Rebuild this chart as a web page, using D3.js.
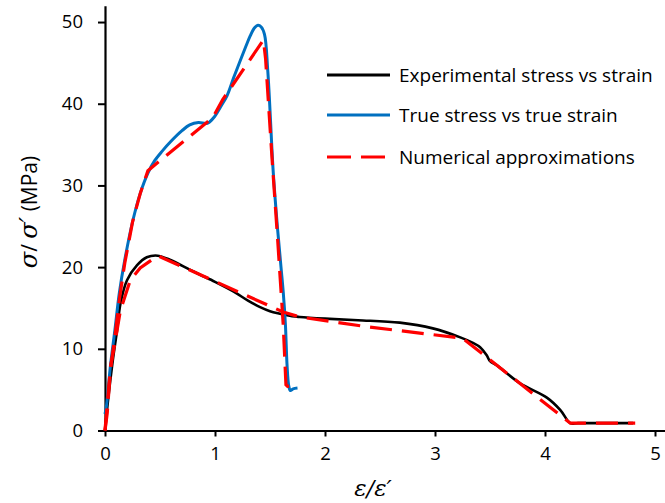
<!DOCTYPE html>
<html>
<head>
<meta charset="utf-8">
<script src="https://cdn.jsdelivr.net/npm/d3@7/dist/d3.min.js"></script>
<style>
  html, body { margin: 0; padding: 0; background: #fff; }
  svg { display: block; }
  .tick text { font-family: "Open Sans", sans-serif; font-size: 18.5px; fill: #000; }
</style>
</head>
<body>
<svg id="chart" width="665" height="503"></svg>
<script>
// Experimental stress vs strain
const expStrain = [0, 0.03, 0.07, 0.11, 0.14, 0.2, 0.29, 0.38, 0.48, 0.59, 0.77, 0.86, 1.0, 1.17, 1.3, 1.41, 1.5, 1.59, 1.7, 1.77, 2.0, 2.3, 2.68, 2.98, 3.23, 3.35, 3.41, 3.47, 3.5, 3.56, 3.77, 4.02, 4.14, 4.23, 4.3, 4.8];
const expStress = [0, 4, 8.5, 12.3, 15.5, 18.4, 20.2, 21.2, 21.4, 20.9, 19.7, 19.1, 18.2, 17.0, 15.9, 15.1, 14.6, 14.3, 14.0, 13.9, 13.7, 13.5, 13.2, 12.5, 11.4, 10.7, 10.2, 9.2, 8.5, 8.0, 5.8, 4.0, 2.5, 0.9, 0.9, 0.9];

// True stress vs true strain
const trueStrain = [0, 0.015, 0.05, 0.09, 0.13, 0.18, 0.255, 0.32, 0.39, 0.45, 0.52, 0.6, 0.7, 0.77, 0.85, 0.93, 1.0, 1.05, 1.11, 1.17, 1.23, 1.28, 1.32, 1.36, 1.39, 1.42, 1.45, 1.48, 1.53, 1.57, 1.6, 1.62, 1.64, 1.655, 1.67, 1.685, 1.71, 1.75];
const trueStress = [2.0, 3.2, 8.0, 12.3, 16.8, 20.9, 25.8, 29.0, 31.5, 33.0, 34.2, 35.4, 36.7, 37.4, 37.7, 37.6, 38.5, 39.6, 41.0, 43.2, 45.3, 47.0, 48.3, 49.3, 49.6, 49.4, 48.5, 44.0, 31.5, 24.5, 20.0, 17.0, 13.0, 8.0, 5.5, 4.9, 5.1, 5.2];

// Numerical approximations (two branches)
const numTrueStrain = [0, 0.02, 0.05, 0.09, 0.13, 0.18, 0.25, 0.32, 0.39, 0.46, 0.98, 1.07, 1.44, 1.46, 1.52, 1.57, 1.62, 1.645, 1.66, 1.76];
const numTrueStress = [0, 2.1, 7.5, 11.5, 16.0, 20.5, 25.5, 29.0, 31.8, 32.6, 38.3, 40.5, 47.8, 45.5, 33.0, 23.3, 13.0, 5.6, 5.4, 5.5];
const numExpStrain = [0, 0.05, 0.09, 0.14, 0.23, 0.32, 0.48, 1.62, 1.77, 2.38, 3.25, 4.23, 4.82];
const numExpStress = [0, 7.8, 10.7, 14.7, 18.4, 19.9, 21.4, 14.5, 13.9, 12.7, 11.3, 0.9, 0.9];

const xTicks = [0, 1, 2, 3, 4, 5];
const yTicks = [0, 10, 20, 30, 40, 50];
const legendLabels = ["Experimental stress vs strain", "True stress vs true strain", "Numerical approximations"];

const svg = d3.select("#chart");
const x = d3.scaleLinear().domain([0, 5.1]).range([105, 666]);
const y = d3.scaleLinear().domain([0, 52]).range([430.5, 5.7]);

const zip = (a, b) => a.map((v, i) => [v, b[i]]);
const smooth = d3.line().x(d => x(d[0])).y(d => y(d[1])).curve(d3.curveCatmullRom.alpha(0.5));
const straight = d3.line().x(d => x(d[0])).y(d => y(d[1]));

// Axes
const xAxis = svg.append("g").attr("transform", `translate(0,${y(0)})`)
  .call(d3.axisBottom(x).tickValues(xTicks).tickFormat(d3.format("d")).tickSize(6).tickSizeOuter(0).tickPadding(10));
const yAxis = svg.append("g").attr("transform", `translate(${x(0)},0)`)
  .call(d3.axisLeft(y).tickValues(yTicks).tickFormat(d3.format("d")).tickSize(7).tickSizeOuter(0).tickPadding(15));
[xAxis, yAxis].forEach(g => {
  g.select(".domain").attr("stroke", "#000").attr("stroke-width", 2.2);
  g.selectAll(".tick line").attr("stroke", "#000").attr("stroke-width", 2);
});

// Series
svg.append("path").datum(zip(expStrain, expStress)).attr("d", smooth)
  .attr("fill", "none").attr("stroke", "#000").attr("stroke-width", 2.6);
svg.append("path").datum(zip(trueStrain, trueStress)).attr("d", smooth)
  .attr("fill", "none").attr("stroke", "#0070C0").attr("stroke-width", 3);
[zip(numTrueStrain, numTrueStress), zip(numExpStrain, numExpStress)].forEach(d => {
  svg.append("path").datum(d).attr("d", straight)
    .attr("fill", "none").attr("stroke", "#FF0000").attr("stroke-width", 3.2)
    .attr("stroke-dasharray", "22,10");
});

// Legend
const legColors = ["#000", "#0070C0", "#FF0000"];
const legY = [75, 115, 157];
legendLabels.forEach((t, i) => {
  const g = svg.append("g");
  g.append("line").attr("x1", 327).attr("x2", 390).attr("y1", legY[i]).attr("y2", legY[i])
    .attr("stroke", legColors[i]).attr("stroke-width", 3)
    .attr("stroke-dasharray", i === 2 ? "24,10" : null);
  g.append("text").attr("x", 399).attr("y", legY[i] + 6.5)
    .attr("font-family", "Open Sans, sans-serif").attr("font-size", 19).text(t);
});

// Axis titles
svg.append("text").attr("x", 373).attr("y", 496).attr("text-anchor", "middle")
  .attr("font-family", "DejaVu Serif, serif").attr("font-style", "italic").attr("font-size", 23)
  .text("ε/ε′");
const yt = svg.append("text").attr("transform", "translate(37,212) rotate(-90)").attr("text-anchor", "middle")
  .attr("font-family", "Open Sans, sans-serif").attr("font-size", 21);
yt.append("tspan").attr("font-family", "DejaVu Serif, serif").attr("font-style", "italic").attr("font-size", 24).text("σ");
yt.append("tspan").text("/ ");
yt.append("tspan").attr("font-family", "DejaVu Serif, serif").attr("font-style", "italic").attr("font-size", 24).text("σ′");
yt.append("tspan").text(" (MPa)");
</script>
</body>
</html>
